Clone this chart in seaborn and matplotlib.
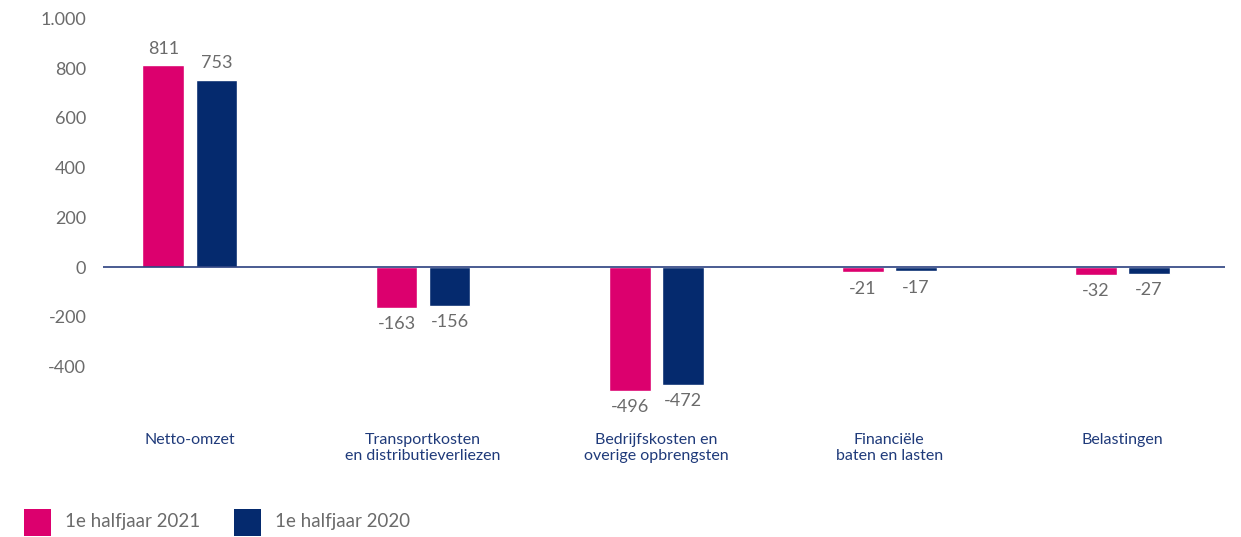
import pandas as pd
import seaborn as sns
import matplotlib.pyplot as plt
from matplotlib.patches import Rectangle

categories = ["Netto-omzet", "Transportkosten\nen distributieverliezen",
              "Bedrijfskosten en\noverige opbrengsten", "Financiële\nbaten en lasten",
              "Belastingen"]
series = ["1e halfjaar 2021", "1e halfjaar 2020"]
values_2021 = [811, -163, -496, -21, -32]
values_2020 = [753, -156, -472, -17, -27]
yticks = [-400, -200, 0, 200, 400, 600, 800, 1000]
ytick_labels = ["-400", "-200", "0", "200", "400", "600", "800", "1.000"]

pink = "#DC006E"
navy = "#052A6E"
grey = "#6b6b6b"

df = pd.DataFrame({
    "categorie": categories * 2,
    "periode": [series[0]] * 5 + [series[1]] * 5,
    "waarde": values_2021 + values_2020,
})

sns.set_style("white")
plt.rcParams['font.family'] = ['Lato', 'DejaVu Sans']

W, H = 1241, 537
fig = plt.figure(figsize=(W / 100, H / 100), dpi=100)
ax = fig.add_axes([0.083, 0.255, 0.904, 0.711])

sns.barplot(data=df, x="categorie", y="waarde", hue="periode", hue_order=series,
            palette=[pink, navy], width=0.455, gap=0.21, saturation=1,
            legend=False, ax=ax)

for cont in ax.containers:
    ax.bar_label(cont, fmt="%d", padding=6, fontsize=13, color=grey)

ax.axhline(0, color="#2a3f7f", lw=1.2)
ax.set_xlim(-0.373, 4.44)
ax.set_ylim(-534, 1000)
ax.set_yticks(yticks)
ax.set_yticklabels(ytick_labels, fontsize=13, color=grey)
ax.tick_params(axis="y", length=0, pad=12)
ax.tick_params(axis="x", length=0, pad=24, labelsize=11.5, labelcolor="#1f3a7a")
for lbl in ax.get_xticklabels():
    lbl.set_linespacing(1.15)
ax.set_xlabel("")
ax.set_ylabel("")
sns.despine(ax=ax, left=True, bottom=True)

# legend drawn by hand: squares and labels
for x0, color, label in [(24, pink, series[0]), (234, navy, series[1])]:
    fig.add_artist(Rectangle((x0 / W, 1 - 536 / H), 27 / W, 27 / H,
                             transform=fig.transFigure, facecolor=color, edgecolor="none"))
    fig.text((x0 + 41) / W, 1 - 522 / H, label, fontsize=13.5, color=grey,
             ha="left", va="center")

plt.savefig("out.png", dpi=100)
